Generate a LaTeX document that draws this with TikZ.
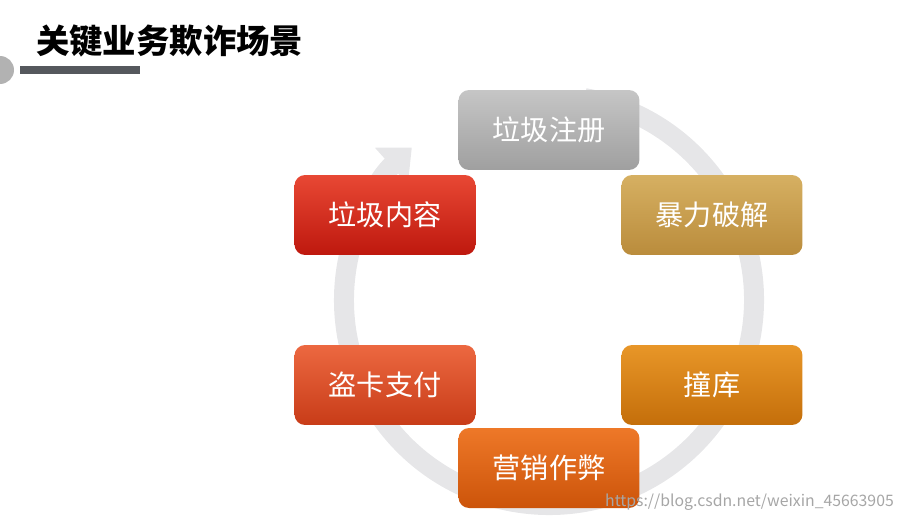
\documentclass[tikz,border=0pt]{standalone}
\usepackage{fontspec}
\setmainfont{Noto Sans CJK SC}
\usetikzlibrary{arrows.meta}
\definecolor{ringgray}{HTML}{E6E6E8}
\definecolor{bargray}{HTML}{55585D}
\tikzset{
    scenebox/.style={rounded corners=6pt, minimum width=3.62cm, minimum height=1.6cm,
        text=white, font=\fontsize{16}{18}\selectfont, inner sep=0pt},
}
\begin{document}
\begin{tikzpicture}[x=0.02cm, y=0.02cm]
        \useasboundingbox (0,0) rectangle (905,525);

        % title
        \fill [gray!60] (0,455) circle (14);
        \fill [bargray] (20,451) rectangle (140,459);
        \node [anchor=west] (title) at (30,484)
            {\fontsize{19}{22}\selectfont\bfseries 关键业务欺诈场景};

        % ring behind the boxes
        \draw [ringgray, line width=0.4cm, -{Triangle[width=0.95cm, length=0.55cm]}]
            (549,225) ++(80:205) arc (80:-228:205);

        % scenes
        \node [scenebox, top color=gray!45, bottom color=gray!75]
            (reg) at (549,395) {垃圾注册};
        \node [scenebox, top color=orange!35!brown!80, bottom color=orange!30!brown!95, top color={rgb,255:red,214;green,176;blue,98}, bottom color={rgb,255:red,186;green,140;blue,60}]
            (crack) at (712,310) {暴力破解};
        \node [scenebox, top color={rgb,255:red,232;green,72;blue,52}, bottom color={rgb,255:red,190;green,24;blue,14}]
            (spam) at (385,310) {垃圾内容};
        \node [scenebox, top color={rgb,255:red,236;green,104;blue,64}, bottom color={rgb,255:red,200;green,60;blue,24}]
            (card) at (385,140) {盗卡支付};
        \node [scenebox, top color={rgb,255:red,232;green,150;blue,40}, bottom color={rgb,255:red,196;green,110;blue,10}]
            (stuff) at (712,140) {撞库};
        \node [scenebox, top color={rgb,255:red,238;green,120;blue,40}, bottom color={rgb,255:red,204;green,84;blue,10}]
            (promo) at (549,57) {营销作弊};

        % watermark
        \node [anchor=south east, text=gray!70, font=\fontsize{9}{10}\selectfont]
            (mark) at (900,8) {https://blog.csdn.net/weixin\_45663905};
    \end{tikzpicture}
\end{document}
